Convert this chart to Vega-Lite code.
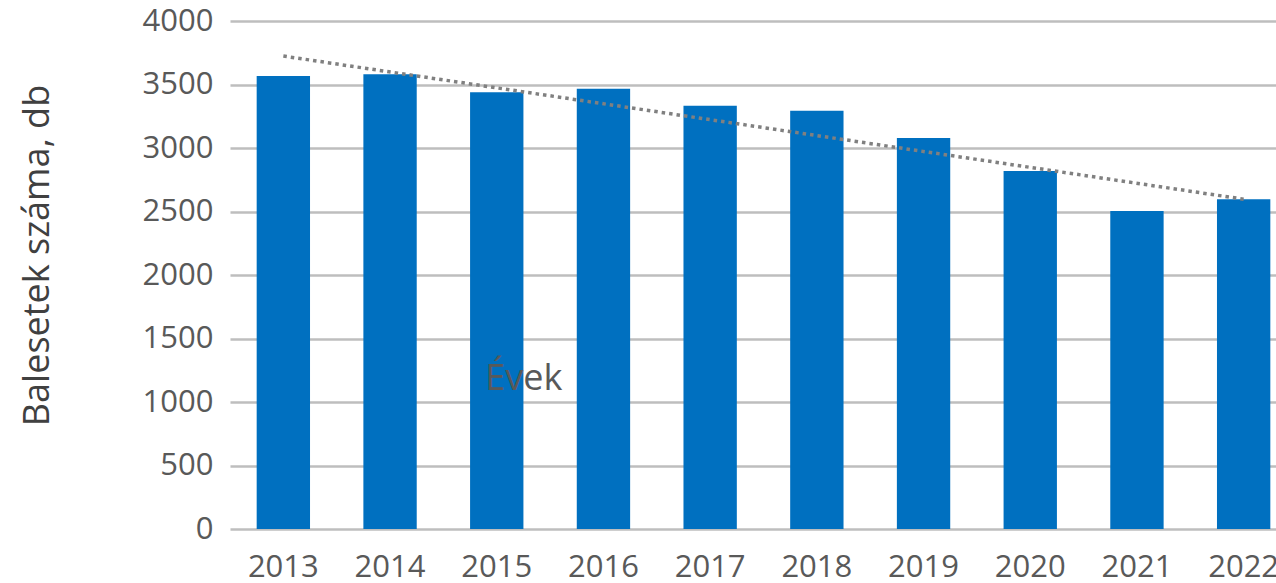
{
  "$schema": "https://vega.github.io/schema/vega-lite/v6.json",
  "width": 1046,
  "height": 508,
  "autosize": "none",
  "padding": {"left": 230, "top": 21, "right": 0, "bottom": 54},
  "background": "white",
  "config": {
    "view": {"stroke": null},
    "font": "Open Sans"
  },
  "datasets": {
    "bars": [
      {"year": "2013", "count": 3567},
      {"year": "2014", "count": 3580},
      {"year": "2015", "count": 3439},
      {"year": "2016", "count": 3467},
      {"year": "2017", "count": 3333},
      {"year": "2018", "count": 3294},
      {"year": "2019", "count": 3079},
      {"year": "2020", "count": 2819},
      {"year": "2021", "count": 2504},
      {"year": "2022", "count": 2596}
    ],
    "trend": [
      {"year": "2013", "count": 3724},
      {"year": "2022", "count": 2597}
    ]
  },
  "layer": [
    {
      "data": {"name": "bars"},
      "mark": {"type": "bar", "color": "#0070C0"},
      "encoding": {
        "x": {
          "field": "year",
          "type": "ordinal",
          "scale": {"range": [0, 1067], "paddingInner": 0.5, "paddingOuter": 0.25},
          "axis": {
            "title": null,
            "domain": false,
            "ticks": false,
            "grid": false,
            "labelAngle": 0,
            "labelFont": "Open Sans",
            "labelFontSize": 31,
            "labelColor": "#595959",
            "labelBaseline": "alphabetic",
            "labelPadding": 47
          }
        },
        "y": {
          "field": "count",
          "type": "quantitative",
          "scale": {"domain": [0, 4000], "nice": false},
          "axis": {
            "title": "Balesetek száma, db",
            "titleFont": "Open Sans",
            "titleFontSize": 36,
            "titleFontWeight": "normal",
            "titleColor": "#404040",
            "titleAngle": -90,
            "titleBaseline": "alphabetic",
            "titleAlign": "center",
            "titleX": -182,
            "titleY": 234,
            "values": [0, 500, 1000, 1500, 2000, 2500, 3000, 3500, 4000],
            "format": "d",
            "domain": false,
            "ticks": false,
            "grid": true,
            "gridColor": "#BEBEBE",
            "gridWidth": 2.5,
            "labelFont": "Open Sans",
            "labelFontSize": 31,
            "labelColor": "#595959",
            "labelPadding": 17
          }
        }
      }
    },
    {
      "data": {"name": "trend"},
      "mark": {"type": "line", "color": "#808080", "strokeWidth": 3.5, "strokeDash": [3.5, 4], "strokeCap": "butt"},
      "encoding": {
        "x": {"field": "year", "type": "ordinal"},
        "y": {"field": "count", "type": "quantitative"}
      }
    },
    {
      "data": {"values": [{}]},
      "mark": {"type": "text", "text": "Évek", "font": "Open Sans", "fontSize": 36, "color": "#595959", "align": "center", "baseline": "alphabetic", "dx": 27},
      "encoding": {
        "x": {"datum": "2015", "type": "ordinal"},
        "y": {"datum": 1094, "type": "quantitative"}
      }
    }
  ]
}
